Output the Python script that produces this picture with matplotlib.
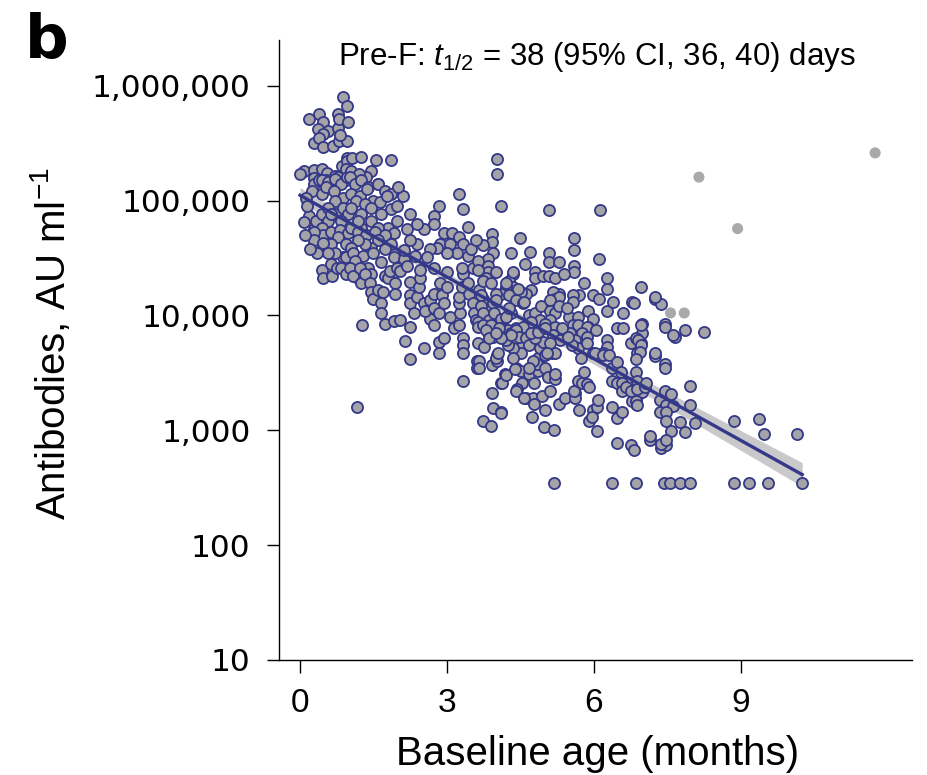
import numpy as np
import matplotlib.pyplot as plt
from matplotlib.ticker import FixedLocator, NullLocator, FuncFormatter

# (baseline age in months, antibodies in AU/ml)
pts_0to1 = [
    (0.18, 5.1e5), (0.38, 5.7e5), (0.46, 4.8e5), (0.36, 4.2e5), (0.58, 4.0e5), (0.48, 3.8e5),
    (0.28, 3.2e5), (0.38, 3.5e5), (0.48, 2.9e5), (0.68, 3.0e5), (0.80, 3.3e5), (0.97, 3.3e5),
    (0.77, 4.3e5), (0.82, 3.7e5), (0.77, 5.7e5), (0.80, 5.1e5), (0.99, 4.8e5), (0.87, 8.0e5),
    (0.97, 6.6e5),
    (0.08, 1.8e5), (0.00, 1.7e5), (0.28, 1.86e5), (0.28, 1.58e5), (0.28, 1.4e5), (0.24, 1.2e5),
    (0.44, 1.9e5), (0.56, 1.75e5), (0.72, 1.65e5), (0.85, 2.0e5), (0.95, 2.36e5), (0.97, 2.2e5),
    (0.93, 1.9e5), (0.38, 1.5e5), (0.54, 1.5e5), (0.68, 1.4e5), (0.78, 1.6e5), (0.93, 1.5e5),
    (0.44, 1.5e5), (0.58, 1.45e5), (0.72, 1.55e5), (0.84, 1.4e5), (0.95, 1.6e5), (0.44, 1.15e5),
    (0.54, 1.3e5), (0.70, 1.2e5), (0.88, 1.05e5), (0.72, 1.0e5), (0.12, 1.06e5),
    (0.18, 7.3e4), (0.28, 5.7e4), (0.28, 4.8e4), (0.28, 4.2e4), (0.46, 6.3e4), (0.46, 5.0e4),
    (0.46, 4.2e4), (0.32, 6.7e4), (0.44, 7.7e4), (0.58, 8.7e4), (0.58, 6.7e4), (0.72, 7.7e4),
    (0.88, 8.7e4), (0.99, 7.7e4), (0.44, 5.8e4), (0.64, 7.7e4), (0.84, 6.7e4), (0.48, 5.0e4),
    (0.64, 5.3e4), (0.82, 5.5e4), (0.99, 5.2e4), (0.28, 5.3e4), (0.28, 4.5e4), (0.78, 4.8e4),
    (0.64, 4.2e4), (0.48, 4.3e4), (0.93, 4.2e4), (0.08, 6.5e4), (0.15, 9.0e4), (0.10, 5.0e4),
    (0.44, 2.5e4), (0.46, 2.1e4), (0.64, 2.8e4), (0.66, 2.2e4), (0.76, 2.6e4), (0.88, 3.2e4),
    (0.84, 2.6e4), (0.72, 3.5e4), (0.93, 3.2e4), (0.58, 3.5e4), (0.34, 3.5e4), (0.93, 2.3e4),
    (0.20, 3.8e4),
]
pts_1to2 = [
    (1.07, 2.36e5), (1.25, 2.4e5), (1.55, 2.27e5), (1.85, 2.27e5), (1.45, 1.8e5), (1.35, 1.6e5),
    (1.05, 1.8e5), (1.09, 1.5e5), (1.20, 1.7e5), (1.60, 1.4e5), (1.03, 1.6e5), (1.13, 1.4e5),
    (1.25, 1.5e5), (1.39, 1.3e5), (1.59, 1.4e5), (1.73, 1.2e5), (1.85, 1.15e5), (1.04, 1.15e5),
    (1.23, 1.1e5), (1.37, 1.25e5), (1.50, 1.0e5), (1.63, 9.8e4), (1.77, 1.1e5), (1.85, 8.5e4),
    (1.99, 9.0e4), (1.15, 1.0e5), (1.33, 9.4e4), (1.45, 8.7e4), (1.05, 8.7e4),
    (1.25, 7.7e4), (1.45, 6.7e4), (1.65, 7.7e4), (1.79, 5.8e4), (1.99, 6.7e4), (1.93, 5.2e4),
    (1.59, 5.8e4), (1.25, 5.8e4), (1.05, 5.8e4), (1.19, 6.7e4), (1.19, 5.3e4), (1.35, 5.0e4),
    (1.53, 5.3e4), (1.73, 5.0e4), (1.95, 3.5e4), (1.85, 4.2e4), (1.73, 3.8e4), (1.59, 4.5e4),
    (1.45, 3.9e4), (1.33, 4.2e4), (1.19, 4.5e4), (1.05, 3.9e4),
    (1.09, 3.5e4), (1.29, 3.3e4), (1.49, 3.5e4), (1.13, 3.0e4), (1.39, 2.6e4), (1.65, 2.9e4),
    (1.93, 2.4e4), (1.19, 2.1e4), (1.45, 2.3e4), (1.73, 2.2e4), (1.02, 2.6e4), (1.09, 2.2e4),
    (1.23, 2.6e4), (1.25, 1.9e4), (1.33, 2.3e4), (1.43, 1.9e4), (1.45, 1.6e4), (1.49, 1.4e4),
    (1.59, 1.65e4), (1.65, 1.27e4), (1.65, 1.06e4), (1.69, 1.6e4), (1.79, 2.1e4), (1.83, 2.45e4),
    (1.95, 1.9e4), (1.95, 1.55e4), (1.99, 2.6e4), (1.93, 3.2e4), (1.27, 8.2e3), (1.73, 8.5e3),
    (1.93, 9.0e3), (1.17, 1.6e3),
]
pts_2to3 = [
    (2.05, 9.2e3), (2.25, 7.9e3), (2.15, 6.0e3), (2.25, 4.2e3), (2.53, 5.2e3), (2.84, 4.7e3),
    (2.84, 5.9e3), (2.94, 6.3e3), (2.66, 9.4e3), (2.74, 8.2e3),
    (2.05, 2.45e4), (2.13, 3.1e4), (2.25, 1.95e4), (2.25, 1.5e4), (2.25, 1.27e4), (2.33, 1.05e4),
    (2.39, 1.45e4), (2.43, 1.75e4), (2.45, 2.1e4), (2.53, 1.27e4), (2.55, 1.1e4), (2.66, 1.35e4),
    (2.74, 1.55e4), (2.74, 1.17e4), (2.84, 1.05e4), (2.86, 1.9e4), (2.90, 1.5e4), (2.94, 1.27e4),
    (2.25, 7.7e4), (2.84, 9.0e4), (2.74, 7.4e4), (2.74, 6.3e4), (2.53, 5.7e4), (2.94, 5.2e4),
    (2.86, 4.2e4), (2.80, 3.9e4), (2.66, 3.8e4), (2.39, 4.2e4), (2.25, 4.5e4), (2.13, 3.7e4),
    (2.19, 5.7e4), (2.39, 6.3e4), (2.19, 2.7e4), (2.45, 2.5e4), (2.74, 2.6e4), (2.10, 1.1e5),
    (2.00, 1.3e5), (2.60, 3.2e4), (2.35, 3.3e4),
]
pts_3to4 = [
    (3.00, 1.75e4), (3.06, 9.6e3), (3.14, 7.7e3), (3.24, 8.2e3), (3.26, 1.05e4), (3.24, 1.27e4),
    (3.24, 1.45e4), (3.30, 1.75e4), (3.34, 2.3e4), (3.44, 1.9e4), (3.46, 1.55e4), (3.54, 1.27e4),
    (3.56, 1.06e4), (3.60, 9.1e3), (3.66, 1.65e4), (3.74, 1.4e4), (3.76, 9.1e3), (3.80, 7.7e3),
    (3.86, 6.5e3), (3.90, 1.17e4),
    (3.34, 2.7e3), (3.34, 6.3e3), (3.34, 5.5e3), (3.34, 4.7e3), (3.62, 4.0e3), (3.62, 3.5e3),
    (3.92, 2.1e3), (3.94, 1.55e3), (3.74, 1.2e3), (3.90, 1.1e3), (3.92, 3.7e3), (3.66, 4.0e3),
    (3.66, 3.5e3),
    (3.24, 1.15e5), (3.34, 8.5e4), (3.44, 5.9e4), (3.10, 5.2e4), (3.06, 4.2e4), (3.24, 4.8e4),
    (3.34, 4.2e4), (3.44, 3.3e4), (3.20, 3.5e4), (3.00, 3.5e4), (3.00, 2.4e4), (3.30, 2.6e4),
    (3.54, 2.6e4),
    (3.92, 5.1e4), (3.92, 4.4e4), (3.74, 4.1e4), (3.94, 3.5e4), (3.84, 3.1e4), (3.84, 2.7e4),
    (3.84, 2.4e4), (3.80, 2.1e4), (3.64, 3.0e4), (3.64, 2.5e4), (3.74, 2.0e4), (3.90, 1.9e4),
    (3.70, 1.5e4), (3.70, 1.2e4), (3.94, 1.27e4), (3.74, 1.05e4), (3.86, 9.1e3), (3.96, 1.05e4),
    (3.64, 8.7e3), (3.84, 7.7e3), (3.94, 6.5e3), (3.64, 7.9e3), (3.64, 5.7e3), (3.76, 5.3e3),
    (3.74, 8.2e3), (3.90, 8.2e3), (3.80, 7.4e3), (3.86, 6.3e3), (3.50, 3.8e4), (3.60, 4.5e4),
]
pts_4to5 = [
    (4.02, 2.3e5), (4.02, 1.7e5), (4.10, 8.9e4), (4.50, 4.7e4), (4.32, 3.5e4), (4.71, 1.65e4),
    (4.61, 1.55e4), (4.51, 1.6e4), (4.35, 2.3e4), (4.27, 2.0e4), (4.35, 1.75e4), (4.21, 1.75e4),
    (4.10, 1.55e4), (4.27, 1.5e4), (4.41, 1.35e4), (4.55, 1.27e4), (4.67, 1.0e4), (4.80, 1.05e4),
    (4.91, 9.1e3), (4.71, 8.7e3), (4.31, 1.05e4), (4.14, 9.1e3), (4.00, 1.55e4), (4.00, 2.4e4),
    (4.10, 9.4e3), (4.10, 7.7e3), (4.25, 7.4e3), (4.41, 7.7e3), (4.55, 7.0e3), (4.80, 2.4e4),
    (4.80, 2.1e4), (4.97, 2.2e4), (4.93, 1.2e4), (4.00, 1.35e4), (4.06, 7.7e3), (4.14, 6.3e3),
    (4.21, 9.6e3), (4.27, 1.17e4), (4.31, 7.0e3), (4.35, 2.4e4), (4.45, 1.7e4), (4.51, 5.3e3),
    (4.55, 7.9e3), (4.57, 1.3e4),
    (4.02, 4.5e3), (4.02, 4.0e3), (4.19, 3.1e3), (4.10, 2.6e3), (4.41, 3.5e3), (4.51, 3.3e3),
    (4.67, 3.1e3), (4.79, 2.6e3), (4.87, 3.3e3), (4.91, 4.2e3), (4.53, 2.6e3), (4.43, 2.3e3),
    (4.61, 1.9e3), (4.77, 1.9e3), (4.95, 2.0e3), (4.79, 1.7e3), (4.73, 1.3e3), (4.10, 1.45e3),
    (4.12, 2.6e3), (4.20, 3.0e3), (4.40, 3.4e3), (4.42, 2.2e3), (4.58, 1.9e3), (4.00, 4.3e3),
    (4.04, 4.7e3), (4.41, 7.4e3), (4.47, 6.5e3), (4.61, 6.3e3), (4.67, 5.5e3), (4.87, 4.3e3),
    (4.85, 3.8e3), (4.75, 4.0e3), (4.67, 3.5e3), (4.51, 4.7e3), (4.35, 5.2e3), (4.25, 5.5e3),
    (4.35, 4.3e3), (4.21, 6.1e3), (4.31, 6.7e3), (4.10, 6.3e3), (4.00, 7.0e3), (4.91, 5.2e3),
    (4.97, 5.9e3), (4.81, 6.3e3), (4.71, 7.0e3), (4.87, 7.1e3), (4.10, 1.4e3), (4.99, 1.06e3),
    (4.20, 1.9e4), (4.60, 2.8e4), (4.70, 3.6e4),
]
pts_5to6 = [
    (5.09, 8.2e4), (5.59, 4.7e4), (5.59, 3.7e4), (5.09, 3.5e4), (5.09, 2.9e4), (5.29, 2.9e4),
    (5.59, 2.7e4), (5.59, 2.4e4), (5.98, 1.5e4), (5.88, 1.1e4), (5.98, 9.4e3), (5.88, 7.9e3),
    (5.70, 1.5e4), (5.58, 1.5e4), (5.58, 1.3e4), (5.50, 9.6e3), (5.67, 9.6e3), (5.58, 8.2e3),
    (5.30, 1.55e4), (5.17, 1.6e4), (5.21, 1.4e4), (5.30, 1.45e4), (5.09, 2.2e4), (5.21, 2.1e4),
    (5.10, 1.35e4), (5.10, 1.1e4), (5.20, 1.05e4), (5.10, 9.1e3), (5.00, 8.5e3), (5.30, 1.2e4),
    (5.45, 1.17e4),
    (5.01, 3.5e3), (5.01, 4.5e3), (5.15, 4.7e3), (5.21, 4.7e3), (5.07, 2.9e3), (5.21, 2.8e3),
    (5.21, 3.1e3), (5.11, 2.2e3), (5.01, 1.5e3), (5.19, 1.0e3), (5.29, 1.7e3), (5.41, 1.9e3),
    (5.61, 2.1e3), (5.61, 1.9e3), (5.69, 1.5e3), (5.59, 2.2e3), (5.67, 2.7e3), (5.77, 2.6e3),
    (5.87, 2.55e3), (5.81, 3.2e3), (5.91, 2.4e3), (5.99, 1.5e3), (5.91, 1.2e3), (5.97, 1.3e3),
    (5.98, 4.7e3), (5.67, 8.2e3), (5.87, 7.9e3), (5.77, 7.0e3), (5.87, 6.5e3), (5.51, 7.0e3),
    (5.61, 6.1e3), (5.67, 5.2e3), (5.55, 5.5e3), (5.75, 4.3e3), (5.87, 5.7e3), (5.21, 7.9e3),
    (5.35, 7.7e3), (5.17, 6.8e3), (5.31, 6.1e3), (5.47, 6.5e3), (5.11, 5.7e3), (5.05, 4.7e3),
    (5.01, 7.7e3), (5.19, 350), (5.40, 2.3e4), (5.80, 1.9e4),
]
pts_6to7 = [
    (6.12, 8.2e4), (6.10, 3.1e4), (6.28, 2.1e4), (6.28, 1.7e4), (6.28, 1.1e4), (6.48, 7.7e3),
    (6.60, 7.7e3), (6.10, 1.4e4), (6.05, 7.4e3), (6.28, 6.1e3), (6.28, 5.3e3), (6.18, 4.7e3),
    (6.02, 4.7e3), (6.18, 4.5e3), (6.32, 4.5e3), (6.38, 3.5e3), (6.48, 3.9e3), (6.56, 3.2e3),
    (6.38, 2.7e3), (6.48, 2.6e3), (6.07, 1.6e3), (6.09, 1.85e3), (6.07, 980), (6.38, 1.6e3),
    (6.48, 1.27e3), (6.58, 1.45e3), (6.48, 770), (6.76, 740), (6.86, 1.7e3), (6.88, 2.0e3),
    (6.98, 2.15e3), (6.86, 2.5e3), (6.72, 2.6e3), (6.78, 1.8e3), (6.86, 1.8e3), (6.58, 2.6e3),
    (6.58, 2.2e3), (6.66, 2.4e3), (6.76, 2.2e3), (6.88, 4.7e3), (6.76, 5.7e3), (6.96, 5.8e3),
    (6.98, 7.0e3), (6.98, 8.5e3), (6.86, 6.3e3), (6.96, 1.75e4), (6.78, 1.3e4), (6.82, 1.27e4),
    (6.96, 8.2e3), (6.90, 6.1e3), (6.96, 5.5e3), (6.94, 4.8e3), (6.86, 4.2e3), (6.86, 3.2e3),
    (6.88, 2.7e3), (6.88, 2.3e3), (6.88, 1.65e3), (6.82, 680), (6.38, 350), (6.86, 350),
    (6.60, 1.05e4), (6.40, 1.3e4),
]
pts_7to8 = [
    (7.26, 1.4e4), (7.38, 1.25e4), (7.26, 1.46e4), (7.46, 8.5e3), (7.46, 8.0e3), (7.86, 7.4e3),
    (7.66, 6.5e3), (7.62, 6.7e3), (7.26, 4.4e3), (7.26, 4.7e3), (7.46, 3.8e3), (7.46, 3.5e3),
    (7.04, 2.4e3), (7.06, 2.6e3), (7.46, 2.2e3), (7.58, 2.05e3), (7.36, 1.85e3), (7.48, 1.65e3),
    (7.62, 1.63e3), (7.36, 1.43e3), (7.48, 1.43e3), (7.48, 1.2e3), (7.76, 1.17e3), (7.58, 980),
    (7.86, 960), (7.96, 1.65e3), (7.96, 2.45e3), (7.16, 820), (7.38, 700), (7.48, 750),
    (7.16, 890), (7.38, 760), (7.48, 830), (7.44, 350), (7.56, 350), (7.76, 350), (7.96, 350),
]
pts_8plus = [
    (8.06, 1.15e3), (8.26, 7.1e3), (8.87, 1.2e3), (9.38, 1.25e3), (9.48, 920), (10.16, 920),
    (8.87, 350), (9.18, 350), (9.56, 350), (10.26, 350),
]
# grey points, not used in the fit
excluded = [(8.15, 1.6e5), (8.94, 5.7e4), (11.75, 2.6e5), (7.57, 1.05e4), (7.85, 1.05e4)]

y_ticks = [10, 100, 1000, 10000, 100000, 1000000]
x_ticks = [0, 3, 6, 9]

fit_pts = pts_0to1 + pts_1to2 + pts_2to3 + pts_3to4 + pts_4to5 + pts_5to6 + pts_6to7 + pts_7to8 + pts_8plus
age = np.array([p[0] for p in fit_pts])
titer = np.array([p[1] for p in fit_pts])
ex_age = [p[0] for p in excluded]
ex_titer = [p[1] for p in excluded]

# log-linear regression with 95% CI of the mean
ly = np.log10(titer)
slope, icpt = np.polyfit(age, ly, 1)
n = len(age)
res = ly - (icpt + slope * age)
s = np.sqrt(np.sum(res ** 2) / (n - 2))
xs = np.linspace(age.min(), age.max(), 200)
pred = icpt + slope * xs
se = s * np.sqrt(1 / n + (xs - age.mean()) ** 2 / np.sum((age - age.mean()) ** 2))
lo, hi = pred - 1.96 * se, pred + 1.96 * se

plt.rcParams['font.family'] = ['Liberation Sans', 'DejaVu Sans']
plt.rcParams['mathtext.fontset'] = 'custom'
plt.rcParams['mathtext.rm'] = 'Liberation Sans'
plt.rcParams['mathtext.it'] = 'Liberation Sans:italic'

fig = plt.figure(figsize=(9.28, 7.75), dpi=100)
ax = fig.add_axes([0.3006, 0.1484, 0.682, 0.80])

navy = '#343888'
ax.fill_between(xs, 10 ** lo, 10 ** hi, color='#c9c9cb', lw=0, zorder=1)
ax.scatter(age, titer, s=64, facecolor='#a3a3a8', edgecolor=navy, linewidth=1.3, zorder=2)
ax.scatter(ex_age, ex_titer, s=64, facecolor='#a9a9a9', edgecolor='none', zorder=2)
ax.plot(xs, 10 ** pred, color=navy, lw=2.4, zorder=3)

ax.set_yscale('log')
ax.set_ylim(10, 2.5e6)
ax.set_xlim(-0.43, 12.5)
ax.yaxis.set_major_locator(FixedLocator(y_ticks))
ax.yaxis.set_minor_locator(NullLocator())
ax.yaxis.set_major_formatter(FuncFormatter(lambda v, p: f"{int(round(v)):,}"))
ax.set_xticks(x_ticks)

for sp in ['top', 'right']:
    ax.spines[sp].set_visible(False)
for sp in ['left', 'bottom']:
    ax.spines[sp].set_linewidth(1.0)
ax.tick_params(axis='both', direction='out', length=9, width=1.0)
ax.tick_params(axis='x', labelsize=24, pad=11)
ax.tick_params(axis='y', labelsize=22.5, pad=11.5)
for lab in ax.get_yticklabels():
    lab.set_fontfamily('DejaVu Sans')

fig.text(0.643, 0.916, 'Pre-F: $t_{1/2}$ = 38 (95% CI, 36, 40) days', ha='center', va='baseline', fontsize=22.5)
fig.text(0.644, 0.013, 'Baseline age (months)', ha='center', va='baseline', fontsize=29)
fig.text(0.0545, 0.557, 'Antibodies, AU ml$^{-1}$', ha='center', va='center', rotation=90, fontsize=29)
fig.text(0.027, 0.985, 'b', ha='left', va='top', fontsize=44, fontweight='heavy', family='DejaVu Sans')

fig.savefig('out.png', dpi=100)
